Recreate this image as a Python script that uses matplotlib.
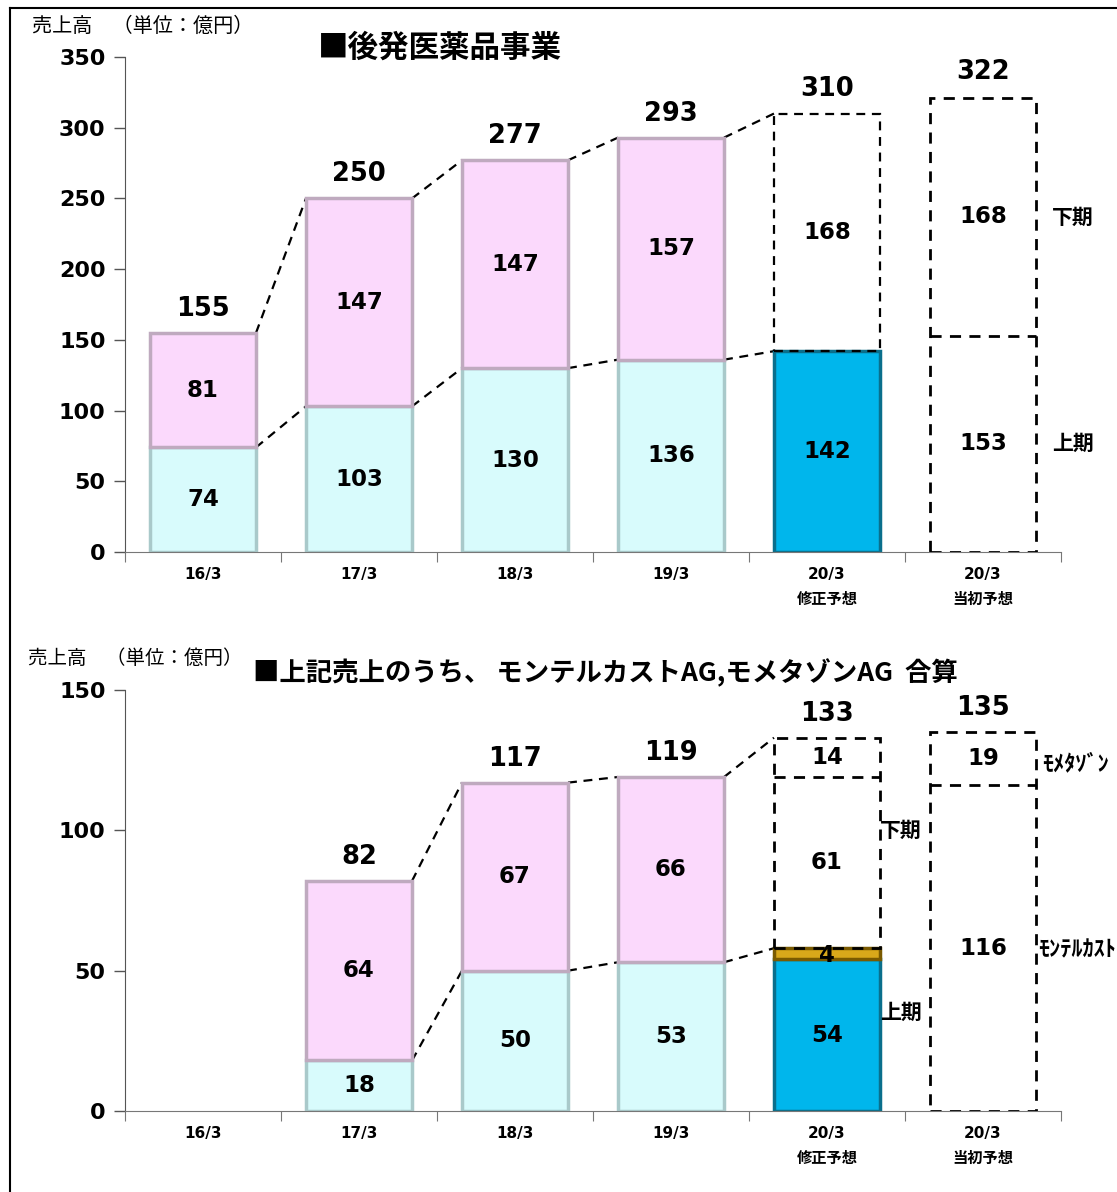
import matplotlib
matplotlib.use("Agg")
import matplotlib.pyplot as plt
from matplotlib.patches import Rectangle
from matplotlib.lines import Line2D

plt.rcParams['font.family'] = ['DejaVu Sans', 'Noto Sans CJK JP']

# ---------------- data ----------------
categories = ["16/3", "17/3", "18/3", "19/3", "20/3\n修正予想", "20/3\n当初予想"]

# top chart: 後発医薬品事業
top_h1 = [74, 103, 130, 136, 142]          # 上期 (actual)
top_h2 = [81, 147, 147, 157]               # 下期 (actual)
top_total = [155, 250, 277, 293, 310, 322]
top_rev_h2 = 168                           # 20/3 修正予想 下期 (forecast)
top_init_h1 = 153                          # 20/3 当初予想 上期
top_init_h2 = 168                          # 20/3 当初予想 下期

# bottom chart: モンテルカストAG, モメタゾンAG 合算
bot_cats_idx = [1, 2, 3]
bot_h1 = [18, 50, 53]
bot_h2 = [64, 67, 66]
bot_total = [82, 117, 119]
bot_rev_h1 = 54        # 20/3 修正予想 上期 actual (blue)
bot_rev_mome_h1 = 4    # モメタゾン 上期 (gold)
bot_rev_h2 = 61        # 下期 forecast
bot_rev_mome = 14      # モメタゾン forecast box
bot_rev_total = 133
bot_init_mont = 116
bot_init_mome = 19
bot_init_total = 135

# ---------------- style ----------------
W_PX, H_PX = 1117, 1192
fig = plt.figure(figsize=(W_PX / 100, H_PX / 100), dpi=100)

def fx(x):
    return x / W_PX

def fy(y):
    return 1 - y / H_PX

C_LOW = "#d8fbfc"
C_LOW_E = "#a9c9ca"
C_UP = "#fbd9fc"
C_UP_E = "#bfaabf"
C_BLUE = "#00b6ec"
C_BLUE_E = "#0a6f8c"
C_GOLD = "#d9a81a"
C_GOLD_E = "#7a5a00"
BW = 0.68
DASH = (0, (4, 3))

# frame
fig.add_artist(Line2D([fx(10), fx(10)], [fy(8), 0], color="black", lw=1.5, transform=fig.transFigure))
fig.add_artist(Line2D([fx(10), 1], [fy(8), fy(8)], color="black", lw=1.5, transform=fig.transFigure))


def setup_axes(ax, ymax, ystep):
    ax.set_xlim(-0.5, 5.5)
    ax.set_ylim(0, ymax)
    for s in ["top", "right"]:
        ax.spines[s].set_visible(False)
    ax.spines["left"].set_color("#555555")
    ax.spines["bottom"].set_color("#777777")
    ax.set_yticks(range(0, ymax + 1, ystep))
    ax.tick_params(axis="y", length=8, width=1, color="#555555", labelsize=16, pad=6)
    for t in ax.get_yticklabels():
        t.set_fontweight("bold")
    ax.set_xticks([i - 0.5 for i in range(7)])
    ax.set_xticklabels([""] * 7)
    ax.tick_params(axis="x", which="major", length=7, color="#777777")
    ax.set_xticks(range(6), minor=True)
    ax.set_xticklabels(categories, minor=True, fontsize=11, fontweight="bold",
                       family=["DejaVu Sans", "Noto Sans CJK JP"], linespacing=1.8, va="top")
    ax.tick_params(axis="x", which="minor", length=0, pad=11)


def bevel_bar(ax, x, bottom, h, fc, ec):
    ax.bar(x, h, BW, bottom=bottom, color=fc, edgecolor=ec, linewidth=2.5, zorder=2)


def dashed_box(ax, x, bottom, h, lw=2.0):
    ax.add_patch(Rectangle((x - BW / 2, bottom), BW, h, fill=False, edgecolor="black",
                           linestyle=DASH, linewidth=lw, zorder=3))


def divider(ax, x, y, lw=2.0):
    ax.plot([x - BW / 2, x + BW / 2], [y, y], color="black", linestyle=DASH, lw=lw, zorder=3)


def conn(ax, x0, y0, x1, y1):
    ax.plot([x0 + BW / 2, x1 - BW / 2], [y0, y1], color="black", lw=1.6,
            linestyle=DASH, zorder=1)


def vlabel(ax, x, y, s, size=16.5):
    ax.text(x, y, s, ha="center", va="center", fontsize=size, fontweight="bold", zorder=5)


def tlabel(ax, x, y, s):
    ax.annotate(s, (x, y), xytext=(0, 8), textcoords="offset points", ha="center",
                va="bottom", fontsize=18.5, fontweight="bold", zorder=5)


# ---------------- top chart ----------------
ax1 = fig.add_axes([fx(125), fy(552), fx(1061 - 125), fy(57) - fy(552)])
setup_axes(ax1, 350, 50)

for i in range(4):
    bevel_bar(ax1, i, 0, top_h1[i], C_LOW, C_LOW_E)
    bevel_bar(ax1, i, top_h1[i], top_h2[i], C_UP, C_UP_E)
    vlabel(ax1, i, top_h1[i] / 2, str(top_h1[i]))
    vlabel(ax1, i, top_h1[i] + top_h2[i] / 2, str(top_h2[i]))
bevel_bar(ax1, 4, 0, top_h1[4], C_BLUE, C_BLUE_E)
vlabel(ax1, 4, top_h1[4] / 2, str(top_h1[4]))
dashed_box(ax1, 4, top_h1[4], top_rev_h2, lw=1.6)
vlabel(ax1, 4, top_h1[4] + top_rev_h2 / 2, str(top_rev_h2))
dashed_box(ax1, 5, 0, top_init_h1 + top_init_h2)
divider(ax1, 5, top_init_h1)
vlabel(ax1, 5, top_init_h1 / 2, str(top_init_h1))
vlabel(ax1, 5, top_init_h1 + top_init_h2 / 2, str(top_init_h2))

for i in range(6):
    tlabel(ax1, i, top_total[i], str(top_total[i]))
for i in range(4):
    conn(ax1, i, top_total[i], i + 1, top_total[i + 1])
    conn(ax1, i, top_h1[i], i + 1, top_h1[i + 1])

fig.text(fx(32), fy(26), "売上高　（単位：億円）", fontsize=14.5, va="center",
         family=["Noto Sans CJK JP"])
fig.text(fx(318), fy(48), "■後発医薬品事業", fontsize=22, fontweight="bold", va="center",
         family=["Noto Sans CJK JP"])
fig.text(fx(1052), fy(217), "下期", fontsize=15, fontweight="bold", va="center",
         family=["Noto Sans CJK JP"])
fig.text(fx(1052), fy(443), "上期", fontsize=15, fontweight="bold", va="center",
         family=["Noto Sans CJK JP"])

# ---------------- bottom chart ----------------
ax2 = fig.add_axes([fx(125), fy(1111), fx(1061 - 125), fy(690) - fy(1111)])
setup_axes(ax2, 150, 50)

for k, i in enumerate(bot_cats_idx):
    bevel_bar(ax2, i, 0, bot_h1[k], C_LOW, C_LOW_E)
    bevel_bar(ax2, i, bot_h1[k], bot_h2[k], C_UP, C_UP_E)
    vlabel(ax2, i, bot_h1[k] / 2, str(bot_h1[k]))
    vlabel(ax2, i, bot_h1[k] + bot_h2[k] / 2, str(bot_h2[k]))
    tlabel(ax2, i, bot_total[k], str(bot_total[k]))

bevel_bar(ax2, 4, 0, bot_rev_h1, C_BLUE, C_BLUE_E)
bevel_bar(ax2, 4, bot_rev_h1, bot_rev_mome_h1, C_GOLD, C_GOLD_E)
vlabel(ax2, 4, bot_rev_h1 / 2, str(bot_rev_h1))
vlabel(ax2, 4, bot_rev_h1 + bot_rev_mome_h1 / 2 - 0.5, str(bot_rev_mome_h1))
h1_top = bot_rev_h1 + bot_rev_mome_h1
dashed_box(ax2, 4, h1_top, bot_rev_h2 + bot_rev_mome)
divider(ax2, 4, h1_top + bot_rev_h2)
vlabel(ax2, 4, h1_top + bot_rev_h2 / 2, str(bot_rev_h2))
vlabel(ax2, 4, h1_top + bot_rev_h2 + bot_rev_mome / 2, str(bot_rev_mome))
tlabel(ax2, 4, bot_rev_total, str(bot_rev_total))

dashed_box(ax2, 5, 0, bot_init_mont + bot_init_mome)
divider(ax2, 5, bot_init_mont)
vlabel(ax2, 5, bot_init_mont / 2, str(bot_init_mont))
vlabel(ax2, 5, bot_init_mont + bot_init_mome / 2, str(bot_init_mome))
tlabel(ax2, 5, bot_init_total, str(bot_init_total))

tot_seq = bot_total + [bot_rev_total]
low_seq = bot_h1 + [h1_top]
for k in range(3):
    conn(ax2, k + 1, tot_seq[k], k + 2, tot_seq[k + 1])
    conn(ax2, k + 1, low_seq[k], k + 2, low_seq[k + 1])

fig.text(fx(28), fy(658), "売上高　（単位：億円）", fontsize=14, va="center",
         family=["Noto Sans CJK JP"])
fig.text(fx(253), fy(673), "■上記売上のうち、 モンテルカストAG,モメタゾンAG  合算", fontsize=19,
         fontweight="bold", va="center", family=["Noto Sans CJK JP"])
fig.text(fx(880), fy(830), "下期", fontsize=15, fontweight="bold", va="center",
         family=["Noto Sans CJK JP"])
fig.text(fx(880), fy(1012), "上期", fontsize=15, fontweight="bold", va="center",
         family=["Noto Sans CJK JP"])
fig.text(fx(1042), fy(764), "ﾓﾒﾀｿﾞﾝ", fontsize=16, fontweight="bold", va="center",
         family=["Noto Sans CJK JP"])
fig.text(fx(1038), fy(950), "ﾓﾝﾃﾙｶｽﾄ", fontsize=16, fontweight="bold", va="center",
         family=["Noto Sans CJK JP"])

fig.savefig("out.png", dpi=100)
